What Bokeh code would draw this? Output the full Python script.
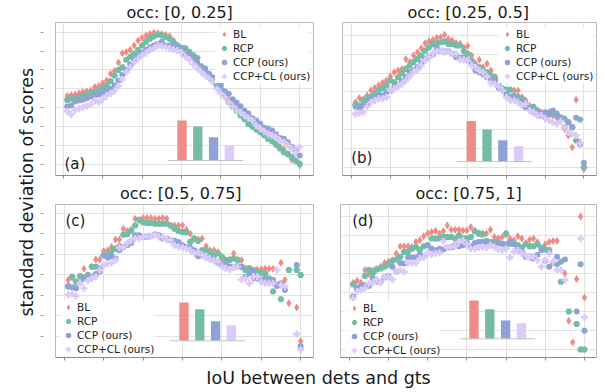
import math
from bokeh.plotting import figure
from bokeh.models import Range1d, FixedTicker, Label, Legend, LegendItem, ColumnDataSource, Grid
from bokeh.layouts import row, column
from bokeh.embed import file_html
from bokeh.resources import INLINE

NaN = float("nan")
FONT = "DejaVu Sans"

# ---------------- data ----------------
iou = [0.41, 0.42, 0.43, 0.44, 0.45, 0.46, 0.47, 0.48, 0.49, 0.50,
       0.51, 0.52, 0.53, 0.54, 0.55, 0.56, 0.57, 0.58, 0.59, 0.60,
       0.61, 0.62, 0.63, 0.64, 0.65, 0.66, 0.67, 0.68, 0.69, 0.70,
       0.71, 0.72, 0.73, 0.74, 0.75, 0.76, 0.77, 0.78, 0.79, 0.80,
       0.81, 0.82, 0.83, 0.84, 0.85, 0.86, 0.87, 0.88, 0.89, 0.90,
       0.91, 0.92, 0.93, 0.94, 0.95, 0.96, 0.97, 0.98, 0.99, 1.00]
xticks = [0.4, 0.5, 0.6, 0.7, 0.8, 0.9, 1.0]
method_names = ["BL", "RCP", "CCP (ours)", "CCP+CL (ours)"]
panel_titles = ["occ: [0, 0.25]", "occ: [0.25, 0.5]", "occ: [0.5, 0.75]", "occ: [0.75, 1]"]
panel_tags = ["(a)", "(b)", "(c)", "(d)"]
y_title = "standard deviation of scores"
x_title = "IoU between dets and gts"

a_bl = [4.63, 4.66, 4.70, 4.77, 4.83, 4.88, 4.92, 5.10, 5.15, 5.30,
        5.44, 5.80, 5.95, 6.40, 6.89, 6.95, 7.07, 7.30, 7.56, 7.70,
        7.83, 7.92, 7.97, 7.95, 7.91, 7.85, 7.78, 7.55, 7.30, 7.05,
        6.90, 6.85, 6.55, 6.33, 6.10, 5.90, 5.59, 5.35, 5.09, 4.92,
        4.62, 4.45, 4.15, 3.95, 3.68, 3.55, 3.40, 3.25, 3.05, 2.80,
        2.65, 2.50, 2.30, 2.10, 1.95, 1.80, 1.55, 1.25, 1.20, 0.95]
a_rcp = [4.42, 4.48, 4.52, 4.56, 4.60, 4.70, 4.78, 4.85, 4.92, 5.05,
         5.18, 5.40, 5.71, 6.00, 6.15, 6.54, 6.70, 6.86, 7.05, 7.30,
         7.50, 7.65, 7.78, 7.86, 7.83, 7.75, 7.65, 7.48, 7.30, 7.17,
         7.15, 6.95, 6.78, 6.63, 6.20, 5.97, 5.75, 5.50, 5.18, 5.00,
         4.65, 4.30, 4.07, 3.85, 3.60, 3.40, 3.15, 3.00, 2.85, 2.71,
         2.55, 2.35, 2.23, 2.05, 1.85, 1.65, 1.55, 1.40, 1.20, 1.04]
a_ccp = [4.07, 4.12, 4.33, 4.38, 4.42, 4.50, 4.60, 4.65, 4.70, 4.80,
         4.88, 5.00, 5.18, 5.44, 5.75, 6.00, 6.30, 6.55, 6.71, 6.90,
         7.07, 7.20, 7.30, 7.38, 7.50, 7.30, 7.30, 7.35, 7.21, 7.15,
         6.82, 6.82, 6.65, 6.38, 6.12, 6.08, 5.80, 5.60, 5.27, 5.20,
         4.88, 4.74, 4.45, 4.28, 4.08, 3.85, 3.70, 3.45, 3.33, 3.15,
         2.95, 2.90, 2.80, 2.60, 2.40, 2.36, 2.18, 1.92, 1.75, 1.48]
a_cl = [3.82, 3.65, 3.89, 3.95, 4.03, 4.10, 4.17, 4.39, 4.30, 4.45,
        4.65, 4.75, 4.90, 5.16, 5.50, 5.89, 6.15, 6.41, 6.60, 6.77,
        6.90, 7.07, 7.15, 7.30, 7.25, 7.22, 7.15, 7.08, 7.03, 6.92,
        6.70, 6.55, 6.30, 6.10, 5.90, 5.71, 5.55, 5.36, 5.00, 4.75,
        4.56, 4.30, 4.07, 3.86, 3.75, 3.59, 3.45, 3.33, 3.06, 2.89,
        2.76, 2.62, 2.53, 2.45, 2.27, 2.18, 2.00, 1.83, 1.65, 1.92]

b_bl = [4.45, 4.68, 4.61, 4.81, 5.07, 5.21, 5.34, 5.48, 5.60, 5.81,
        6.04, 6.13, 6.22, 6.75, 6.58, 6.93, 7.11, 7.32, 7.58, 7.69,
        7.76, 7.87, 7.90, 8.04, 7.81, 7.73, 7.60, 7.55, 7.34, 7.44,
        6.93, 6.49, 6.70, 6.31, 6.49, 6.13, 5.78, 5.69, 5.07, 5.07,
        4.72, 5.07, 5.07, 4.72, 4.54, 4.27, 4.19, 4.01, 3.92, 3.83,
        3.92, 3.74, 3.65, 3.48, 3.04, 2.68, 2.06, 4.58, 2.33, 0.90]
b_rcp = [4.33, 4.27, 4.54, 4.68, 4.72, 4.89, 5.07, 5.21, 5.34, 5.60,
         5.51, 5.78, 5.99, 6.22, 6.40, 6.58, 6.75, 6.93, 7.19, 7.37,
         7.55, 7.58, 7.64, 7.67, 7.55, 7.55, 7.46, 7.46, 7.16, 7.02,
         6.66, 6.40, 6.31, 6.13, 6.04, 5.87, 5.78, 5.34, 5.16, 5.11,
         5.11, 4.81, 4.72, 4.63, 4.36, 4.15, 4.19, 3.83, 3.74, 3.65,
         3.80, 3.92, 3.83, 3.57, 3.57, 3.39, 3.12, 2.42, 3.53, 1.00]
b_ccp = [4.22, 4.15, 4.27, 4.40, 4.58, 4.72, 4.81, 4.81, 4.98, 5.04,
         5.25, 5.34, 5.57, 5.78, 6.04, 6.13, 6.31, 6.52, 6.75, 6.88,
         6.98, 7.34, 7.16, 7.16, 7.16, 7.02, 6.84, 6.81, 6.81, 6.66,
         6.58, 6.13, 6.04, 5.92, 5.78, 5.69, 5.60, 5.21, 5.11, 4.86,
         4.75, 4.72, 4.54, 4.45, 4.19, 4.19, 3.92, 4.01, 3.74, 3.92,
         3.87, 4.01, 3.74, 3.65, 3.12, 3.39, 3.12, 3.62, 2.20, 1.23]
b_cl = [3.83, 3.87, 3.92, 4.22, 4.45, 4.54, 4.63, 4.63, 4.72, 5.07,
        5.16, 5.28, 5.42, 5.60, 5.81, 6.04, 6.17, 6.40, 6.66, 6.84,
        7.05, 7.16, 7.19, 7.11, 7.14, 7.02, 7.02, 6.70, 6.70, 6.66,
        6.40, 6.31, 6.13, 6.04, 5.81, 5.46, 5.42, 5.28, 5.07, 4.72,
        4.54, 4.54, 4.45, 4.27, 4.36, 4.01, 3.92, 3.74, 3.74, 3.57,
        3.48, 3.39, 3.30, 3.44, 3.12, 2.86, 2.77, 2.68, 2.27, NaN]

c_bl = [3.74, 3.87, 3.66, 3.90, 4.29, 3.94, 4.39, 4.74, 4.74, 5.15,
        5.19, 5.35, 5.71, 5.71, 6.24, 6.13, 6.19, 6.73, 6.65, 6.76,
        6.76, 6.76, 6.73, 6.73, 6.76, 6.73, 6.40, 6.40, 6.40, 6.40,
        6.19, 6.00, 5.76, 5.71, 5.76, 5.39, 5.19, 5.19, 5.11, 4.74,
        4.71, 4.74, 5.03, 4.74, 4.71, 4.31, 4.29, 3.82, 4.26, 4.27,
        4.29, 4.29, 4.29, 3.50, 4.58, 3.74, 2.61, NaN, 2.40, 0.76]
c_rcp = [3.45, 3.90, 3.66, 3.94, 3.87, 3.98, 4.39, 4.39, 4.31, 4.95,
         4.95, 5.16, 5.27, 5.39, 5.95, 5.97, 6.16, 6.40, 6.68, 6.56,
         6.52, 6.52, 6.48, 6.48, 6.48, 6.48, 6.40, 6.24, 6.13, 6.08,
         6.06, 5.60, 5.76, 5.65, 5.19, 5.19, 5.11, 4.95, 5.03, 4.87,
         4.71, 4.71, 4.79, 4.71, 4.39, 4.23, 4.31, 4.23, 4.10, 4.10,
         4.06, 3.82, 3.18, NaN, 2.81, NaN, 4.23, NaN, 4.23, 3.98]
c_ccp = [3.42, 3.39, 3.34, 3.61, 3.82, 3.90, 3.90, 4.03, 4.15, 4.95,
         4.84, 4.90, 4.79, 5.19, 5.35, 5.44, 5.55, 5.92, 5.92, 5.84,
         5.84, 5.87, 5.97, 5.92, 5.76, 5.76, 5.68, 5.65, 5.60, 5.44,
         5.35, 5.32, 5.19, 4.90, 4.95, 4.87, 4.79, 4.74, 4.58, 4.47,
         4.47, 4.39, 4.39, 4.42, 4.39, 3.90, 4.06, 4.23, 3.82, 3.77,
         3.82, 3.66, 3.74, 3.45, 3.58, 3.26, NaN, NaN, 4.47, 0.52]
c_cl = [3.02, 3.06, 2.97, 3.58, 3.34, 3.71, 3.82, 3.90, 4.23, 4.47,
        4.55, 4.58, 4.71, 5.32, 5.35, 5.55, 5.68, 5.76, 5.76, 5.84,
        5.87, 5.87, 5.97, 5.84, 5.84, 5.71, 5.68, 5.44, 5.35, 5.32,
        5.27, 5.19, 5.03, 5.11, 4.95, 4.84, 4.74, 4.71, 4.63, 4.39,
        4.31, 4.26, 4.35, 4.39, 3.77, 3.82, 3.58, 3.90, 3.90, 3.66,
        3.58, 3.58, 3.58, 4.23, 3.50, 3.42, NaN, NaN, 1.11, 0.35]

d_bl = [4.52, 4.62, 4.52, 5.18, 4.97, 5.15, 5.22, 5.36, 5.56, 5.62,
        5.70, 6.05, 6.44, 6.44, 6.44, 6.40, 6.66, 6.75, 6.96, 7.10,
        7.18, 7.24, 7.10, 7.24, 7.53, 7.31, 7.31, 7.31, 7.27, 7.27,
        7.45, 7.27, 7.13, 7.10, 7.10, 7.31, 6.92, 6.84, 6.92, 7.06,
        6.84, 6.75, 6.96, 6.84, 6.61, 6.78, 6.84, 6.66, 6.31, 6.54,
        6.66, 6.71, 6.71, NaN, 5.01, 2.52, 1.38, 4.71, 8.00, 3.74]
d_rcp = [4.43, 4.22, 4.31, 4.87, 5.18, 5.01, 5.22, 5.27, 5.36, 5.48,
         5.67, 5.74, 5.88, 6.14, 6.14, 6.31, 6.40, 6.23, 6.44, 6.49,
         6.84, 6.84, 6.84, 6.92, 6.92, 6.92, 6.84, 7.01, 6.84, 6.84,
         6.92, 7.22, 7.10, 7.06, 6.71, 6.66, 6.66, 6.66, 6.57, 7.10,
         6.57, 6.61, 6.49, 6.37, 6.54, 6.44, 6.44, 6.54, 6.37, 6.26,
         6.23, NaN, 5.49, 4.57, NaN, 3.00, NaN, 2.34, 1.00, 1.00]
d_ccp = [3.79, 4.22, 4.34, 4.40, 4.34, 4.75, 4.57, 4.57, 4.80, 4.87,
         5.36, 5.09, 5.56, 5.53, 5.84, 5.84, 5.84, 5.97, 5.91, 6.49,
         6.31, 6.23, 6.31, 6.26, 6.37, 6.37, 6.49, 6.44, 6.49, 6.61,
         6.44, 6.61, 6.66, 6.66, 6.61, 6.49, 6.54, 6.61, 6.57, 6.54,
         6.66, 6.54, 6.31, 6.14, 5.88, 5.91, 5.79, 5.97, 6.23, 5.67,
         5.36, 5.56, 5.88, 5.62, 5.74, NaN, NaN, 3.00, 5.49, 1.99]
d_cl = [3.70, 4.05, 4.14, 4.22, 4.48, 4.52, 4.69, 4.52, 4.80, 4.83,
        4.69, 5.09, 5.18, 5.09, 5.56, 5.56, 5.56, 5.79, 5.84, 6.05,
        6.02, 6.05, 6.09, 6.71, 6.37, 6.40, 6.44, 6.66, 6.75, 6.54,
        6.31, 6.31, 6.37, 6.40, 6.37, 6.49, 6.40, 6.26, 6.23, 6.31,
        5.84, 6.14, 6.23, 6.05, 5.97, 5.84, 5.91, 5.70, 5.36, 5.70,
        6.05, 5.62, 5.18, 5.18, 4.66, NaN, NaN, NaN, 6.84, 2.69]

# inset bar chart values (BL, RCP, CCP, CCP+CL)
bars_a = [1.00, 0.85, 0.58, 0.375]
bars_b = [1.01, 0.80, 0.53, 0.38]
bars_c = [0.96, 0.79, 0.49, 0.39]
bars_d = [0.96, 0.74, 0.46, 0.39]

# ---------------- styles ----------------
colors = ["#ee8c87", "#73bca6", "#8fa2d8", "#dccaf8"]
markers = ["diamond", "hex", "circle", "plus"]
msizes = [8.0, 7.0, 6.0, 7.0]

# screen geometry (px)
geoms = [
    dict(width=279, height=180, mbl=17, mbr=4, mbt=22, mbb=5, fl=55, ft=22,
         xr=(0.3803, 1.0351), yr=(0.418, 8.513), yt=[1, 2, 3, 4, 5, 6, 7, 8], show_y=True,
         leg=(160, 92), standoff=1, toff=71, tag=(64, 163), inset=(181.5, 160)),
    dict(width=287, height=180, mbl=25, mbr=8, mbt=22, mbb=5, fl=342, ft=22,
         xr=(0.3764, 1.0327), yr=(0.559, 8.684), yt=[1, 2, 3, 4, 5, 6, 7, 8], show_y=False,
         leg=(156, 92), standoff=1, toff=65, tag=(350.7, 157.5), inset=(470.7, 161)),
    dict(width=279, height=182, mbl=17, mbr=4, mbt=24, mbb=5, fl=55, ft=204,
         xr=(0.3778, 1.0326), yr=(-0.03, 7.42), yt=[1, 2, 3, 4, 5, 6, 7], show_y=True,
         leg=(4, 1), standoff=3, toff=64.5, tag=(65, 220), inset=(183.5, 340.3)),
    dict(width=287, height=182, mbl=23, mbr=8, mbt=24, mbb=5, fl=340, ft=204,
         xr=(0.3776, 1.0307), yr=(0.582, 8.632), yt=[1, 2, 3, 4, 5, 6, 7, 8], show_y=False,
         leg=(5, 0), standoff=3, toff=75, tag=(351.7, 220), inset=(473.5, 338.3)),
]
panel_series = [[a_bl, a_rcp, a_ccp, a_cl], [b_bl, b_rcp, b_ccp, b_cl],
                [c_bl, c_rcp, c_ccp, c_cl], [d_bl, d_rcp, d_ccp, d_cl]]
panel_bars = [bars_a, bars_b, bars_c, bars_d]

BAR_STEP = 15.8   # px between inset bars
BAR_SCALE = 40.0  # px per unit of inset value


def make_panel(g, series, bars, title, tag):
    fw = g["width"] - g["mbl"] - g["mbr"]
    fh = g["height"] - g["mbt"] - g["mbb"]
    x0, x1 = g["xr"]
    y0, y1 = g["yr"]

    def dx(sx):
        return x0 + (sx - g["fl"]) / fw * (x1 - x0)

    def dy(sy):
        return y0 + (g["ft"] + fh - sy) / fh * (y1 - y0)

    p = figure(width=g["width"], height=g["height"], x_range=Range1d(x0, x1), y_range=Range1d(y0, y1),
               output_backend="svg", toolbar_location=None, title=title,
               y_axis_location="left" if g["show_y"] else None,
               min_border_left=g["mbl"], min_border_right=g["mbr"],
               min_border_top=g["mbt"], min_border_bottom=g["mbb"])
    p.title.align = "left"
    p.title.offset = g["toff"]
    p.title.text_font = FONT
    p.title.text_font_size = "16px"
    p.title.text_font_style = "normal"
    p.title.text_color = "#1a1a1a"
    p.title.standoff = g["standoff"]

    p.outline_line_color = "#b9b9b9"
    p.background_fill_color = "white"
    p.border_fill_color = "white"
    p.grid.visible = False
    p.add_layout(Grid(dimension=0, ticker=FixedTicker(ticks=xticks), grid_line_color="#e2e2e2"), "center")
    p.add_layout(Grid(dimension=1, ticker=FixedTicker(ticks=g["yt"]), grid_line_color="#e2e2e2"), "center")

    xa = p.xaxis[0]
    xa.ticker = FixedTicker(ticks=xticks)
    xa.major_label_text_color = None
    xa.major_label_text_font_size = "1px"
    xa.major_label_standoff = 0
    xa.axis_line_color = "#8a8a8a"
    xa.major_tick_in = 0
    xa.major_tick_out = 3
    xa.major_tick_line_color = "#8a8a8a"
    xa.minor_tick_line_color = None

    if g["show_y"]:
        ya = p.yaxis[0]
        ya.ticker = FixedTicker(ticks=g["yt"])
        ya.major_label_text_color = None
        ya.major_label_text_font_size = "1px"
        ya.major_label_standoff = 0
        ya.axis_line_color = None
        ya.minor_tick_line_color = None
        ya.major_tick_line_color = "#a0a0a0"
        try:
            ya.major_tick_in = -12
            ya.major_tick_out = 15
        except Exception:
            ya.major_tick_in = 0
            ya.major_tick_out = 3

    # inset bar chart on its own ranges
    c0, base = g["inset"]
    ix0 = -(c0 - g["fl"]) / BAR_STEP
    iy0 = -(g["ft"] + fh - base) / BAR_SCALE
    p.extra_x_ranges = {"ix": Range1d(ix0, ix0 + fw / BAR_STEP)}
    p.extra_y_ranges = {"iy": Range1d(iy0, iy0 + fh / BAR_SCALE)}
    idx = list(range(len(bars)))
    p.vbar(x=idx, top=bars, bottom=0, width=0.59, fill_color=colors, line_color=None,
           x_range_name="ix", y_range_name="iy")
    p.segment(x0=[-0.9], y0=[0], x1=[len(bars) - 1 + 0.87], y1=[0], line_color="#c4c4c4",
              line_width=1, x_range_name="ix", y_range_name="iy")

    src = ColumnDataSource(dict(iou=iou, s0=series[0], s1=series[1], s2=series[2], s3=series[3]))
    renderers = []
    for k in range(4):
        r = p.scatter(x="iou", y="s%d" % k, source=src, marker=markers[k], size=msizes[k],
                      fill_color=colors[k], line_color=None)
        renderers.append(r)

    items = [LegendItem(label=method_names[k], renderers=[renderers[k]]) for k in range(4)]
    leg = Legend(items=items, location=g["leg"], padding=0, margin=0, label_standoff=0,
                 glyph_width=18, glyph_height=14, spacing=0,
                 label_text_font_size="10.5px", label_text_font=FONT, label_text_color="#222222",
                 border_line_color=None, background_fill_color="white", background_fill_alpha=0.9,
                 label_height=14, label_width=20)
    p.add_layout(leg)

    gx, gy = g["tag"]
    p.add_layout(Label(x=dx(gx), y=dy(gy), text=tag, text_align="left", text_baseline="middle",
                       text_font=FONT, text_font_size="15px", text_color="#1a1a1a"))
    return p


panels = [make_panel(geoms[i], panel_series[i], panel_bars[i], panel_titles[i], panel_tags[i])
          for i in range(4)]

# shared axis titles
YL_W, YL_H = 38, 391
ylab = figure(width=YL_W, height=YL_H, x_range=Range1d(0, YL_W), y_range=Range1d(0, YL_H),
              output_backend="svg", toolbar_location=None, x_axis_location=None, y_axis_location=None,
              min_border=0, outline_line_color=None)
ylab.grid.visible = False
ylab.add_layout(Label(x=26.5, y=YL_H - 191.7, text=y_title, angle=math.pi / 2,
                      text_align="center", text_baseline="middle", text_font=FONT,
                      text_font_size="17.5px", text_color="#1a1a1a"))

XL_W, XL_H = 566, 29
xlab = figure(width=XL_W, height=XL_H, x_range=Range1d(0, XL_W), y_range=Range1d(0, XL_H),
              output_backend="svg", toolbar_location=None, x_axis_location=None, y_axis_location=None,
              min_border=0, outline_line_color=None)
xlab.grid.visible = False
xlab.add_layout(Label(x=318 - YL_W, y=XL_H - (377.0 - 362), text=x_title, text_align="center",
                      text_baseline="middle", text_font=FONT, text_font_size="17.5px",
                      text_color="#1a1a1a"))

layout = row(ylab, column(row(panels[0], panels[1]), row(panels[2], panels[3]), xlab))

open("out.html", "w").write(file_html(layout, INLINE))
